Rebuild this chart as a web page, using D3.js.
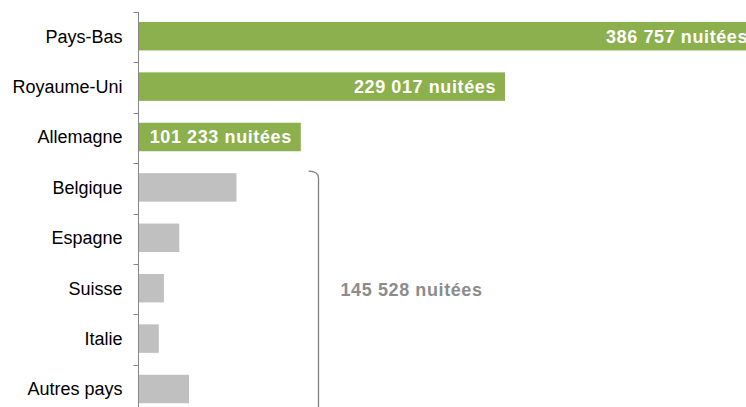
<!DOCTYPE html>
<html>
<head>
<meta charset="utf-8">
<script src="https://cdn.jsdelivr.net/npm/d3@7"></script>
<style>
  body { margin: 0; background: #fff; }
  svg { display: block; font-family: Arial, "Liberation Sans", sans-serif; }
</style>
</head>
<body>
<svg width="746" height="407"></svg>
<script>
var countries = ["Pays-Bas", "Royaume-Uni", "Allemagne", "Belgique", "Espagne", "Suisse", "Italie", "Autres pays"];
var nights = [386757, 229017, 101233, 61000, 25200, 15600, 12400, 31328];
var highlighted = ["Pays-Bas", "Royaume-Uni", "Allemagne"];
var othersLabel = "145 528 nuitées";

var data = countries.map(function(c, i) { return {country: c, value: nights[i]}; });

var svg = d3.select("svg");

var y = d3.scaleBand()
    .domain(countries)
    .range([12, 12 + countries.length * 50.4]);

var x = d3.scaleLinear()
    .domain([0, 229017])
    .range([139, 505]);

var fmt = function(v) { return d3.format(",")(v).replace(/,/g, " ") + " nuitées"; };

// bars
var barH = y.bandwidth() * 0.565;
svg.selectAll(".bar")
    .data(data)
  .enter().append("rect")
    .attr("class", "bar")
    .attr("x", x(0))
    .attr("y", function(d) { return y(d.country) + (y.bandwidth() - barH) / 2 - 1; })
    .attr("width", function(d) { return x(d.value) - x(0); })
    .attr("height", barH)
    .attr("fill", function(d) { return highlighted.indexOf(d.country) >= 0 ? "#8BB04D" : "#C0C0C0"; });

// value labels inside green bars
svg.selectAll(".val")
    .data(data.filter(function(d) { return highlighted.indexOf(d.country) >= 0; }))
  .enter().append("text")
    .attr("class", "val")
    .attr("x", function(d) { return x(d.value) - 9; })
    .attr("y", function(d) { return y(d.country) + y.bandwidth() / 2 - 1; })
    .attr("dy", "0.35em")
    .attr("text-anchor", "end")
    .attr("fill", "#fff")
    .style("font-weight", "bold")
    .style("font-size", "18px")
    .style("letter-spacing", "0.6px")
    .text(function(d) { return fmt(d.value); });

// category axis
var axis = svg.append("g")
    .attr("transform", "translate(138.5,0)");

axis.append("line")
    .attr("y1", y.range()[0])
    .attr("y2", 407)
    .attr("stroke", "#868686");

axis.selectAll(".tick")
    .data(countries)
  .enter().append("line")
    .attr("x1", -5)
    .attr("x2", 0)
    .attr("y1", function(d) { return Math.round(y(d)) + 0.5; })
    .attr("y2", function(d) { return Math.round(y(d)) + 0.5; })
    .attr("stroke", "#868686");

axis.selectAll(".lab")
    .data(countries)
  .enter().append("text")
    .attr("x", -16)
    .attr("y", function(d) { return y(d) + y.bandwidth() / 2 - 1; })
    .attr("dy", "0.35em")
    .attr("text-anchor", "end")
    .attr("fill", "#000")
    .style("font-size", "18px")
    .text(function(d) { return d; });

// bracket around the other countries
var bx = 318.5,
    by = y("Belgique") + 8;
svg.append("path")
    .attr("d", "M" + (bx - 10) + "," + by + " Q" + bx + "," + by + " " + bx + "," + (by + 7) + " L" + bx + ",410")
    .attr("fill", "none")
    .attr("stroke", "#808080")
    .attr("stroke-width", 1.3);

svg.append("text")
    .attr("x", bx + 22)
    .attr("y", (y("Belgique") + y("Autres pays") + y.bandwidth()) / 2)
    .attr("dy", "0.35em")
    .attr("fill", "#8C8C8C")
    .style("font-weight", "bold")
    .style("font-size", "18px")
    .style("letter-spacing", "0.6px")
    .text(othersLabel);
</script>
</body>
</html>
